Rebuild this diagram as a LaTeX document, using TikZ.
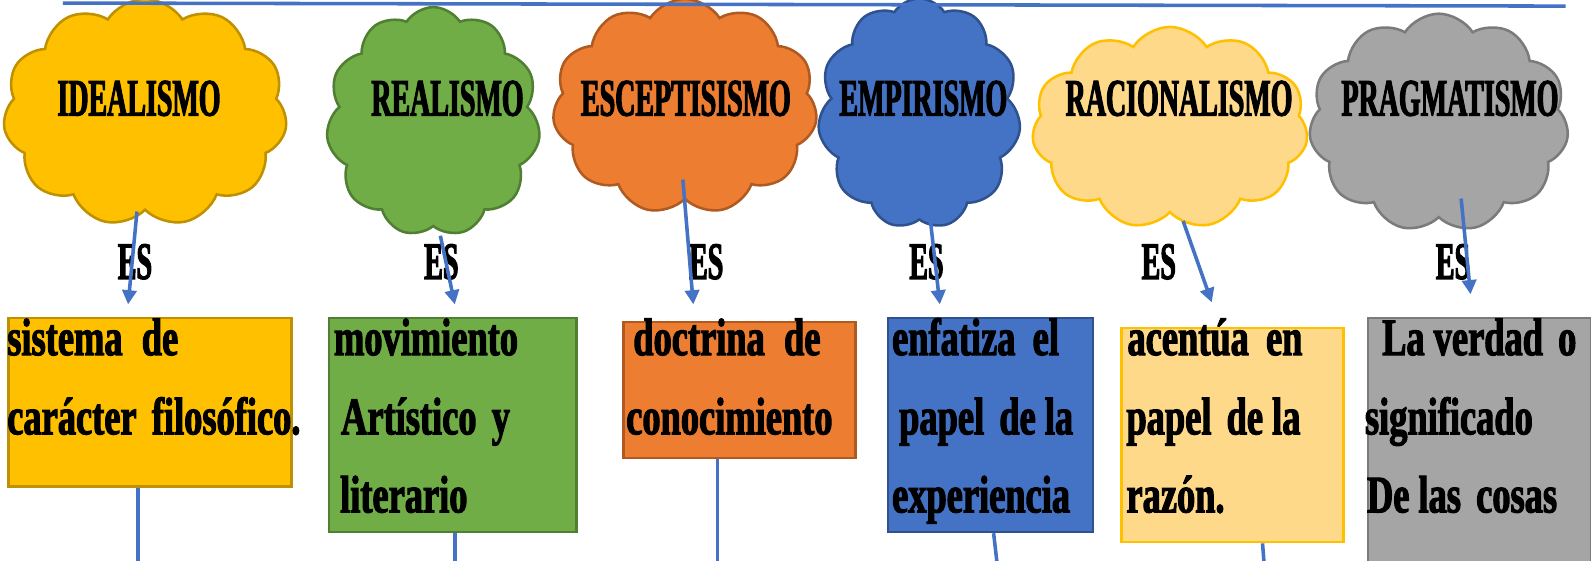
\documentclass[tikz,border=0pt]{standalone}
\usepackage{fontspec}
\setmainfont{Liberation Serif}
\newfontfamily\capfont{Liberation Serif}[FakeStretch=0.53,FakeBold=2]
\newfontfamily\txtfont{Liberation Serif}[FakeStretch=0.69,FakeBold=2]
\usetikzlibrary{shapes.symbols,arrows.meta}
\definecolor{azul}{HTML}{4472C4}
\definecolor{azulborde}{HTML}{2F528F}
\definecolor{oro}{HTML}{FFC000}
\definecolor{oroborde}{HTML}{BF9000}
\definecolor{verde}{HTML}{70AD47}
\definecolor{verdeborde}{HTML}{507E32}
\definecolor{naranja}{HTML}{ED7D31}
\definecolor{naranjaborde}{HTML}{AE5A21}
\definecolor{crema}{HTML}{FFD98A}
\definecolor{gris}{HTML}{A5A5A5}
\definecolor{grisborde}{HTML}{7B7B7B}
\begin{document}
\begin{tikzpicture}[x=1pt,y=-1pt,
  nube/.style={cloud, cloud puffs=11, cloud puff arc=115, cloud ignores aspect, draw, line width=2.5pt, inner sep=0pt},
  titulo/.style={font=\capfont\bfseries\fontsize{52}{60}\selectfont, inner sep=0pt},
  caja/.style={draw, line width=2.5pt, anchor=north west, inner sep=0pt},
  linea/.style={anchor=base west, inner sep=0pt, font=\txtfont\bfseries\fontsize{52}{60}\selectfont},
  flecha/.style={draw=azul, line width=3.5pt, -{Triangle[width=14pt,length=14pt]}},
  enlace/.style={draw=azul, line width=3.5pt}]
\useasboundingbox (0,0) rectangle (1568,552);

\node[nube, fill=oro, draw=oroborde, minimum width=280pt, minimum height=224pt] (c1) at (143,111) {};
\node[nube, fill=verde, draw=verdeborde, minimum width=211pt, minimum height=226pt] (c2) at (427,120) {};
\node[nube, fill=naranja, draw=naranjaborde, minimum width=261pt, minimum height=212pt] (c3) at (675,105) {};
\node[nube, fill=azul, draw=azulborde, minimum width=200pt, minimum height=227pt] (c4) at (906,112) {};
\node[nube, fill=crema, draw=oro, minimum width=272pt, minimum height=199pt] (c5) at (1153,126) {};
\node[nube, fill=gris, draw=grisborde, minimum width=256pt, minimum height=215pt] (c6) at (1418,121) {};

\coordinate (izq) at (62,3);
\coordinate (der) at (1543,6);
\draw[enlace] (izq) -- (der);

\node[titulo] (t1) at (137,97) {IDEALISMO};
\node[titulo] (t2) at (441,97) {REALISMO};
\node[titulo] (t3) at (676,97) {ESCEPTISISMO};
\node[titulo] (t4) at (910,97) {EMPIRISMO};
\node[titulo] (t5) at (1162,97) {RACIONALISMO};
\node[titulo] (t6) at (1429,97) {PRAGMATISMO};

\node[titulo] (e1) at (133,258) {ES};
\node[titulo] (e2) at (435,258) {ES};
\node[titulo] (e3) at (696,258) {ES};
\node[titulo] (e4) at (913,258) {ES};
\node[titulo] (e5) at (1142,258) {ES};
\node[titulo] (e6) at (1432,258) {ES};

\node[caja, fill=oro, draw=oroborde, minimum width=279pt, minimum height=166pt] (b1) at (7,312) {};
\node[caja, fill=verde, draw=verdeborde, minimum width=244pt, minimum height=211pt] (b2) at (323,312) {};
\node[caja, fill=naranja, draw=naranjaborde, minimum width=229pt, minimum height=134pt] (b3) at (613,316) {};
\node[caja, fill=azul, draw=azulborde, minimum width=202pt, minimum height=211pt] (b4) at (874,312) {};
\node[caja, fill=crema, draw=oro, minimum width=219pt, minimum height=211pt] (b5) at (1104,322) {};
\node[caja, fill=gris, draw=grisborde, minimum width=220pt, minimum height=250pt] (b6) at (1347,312) {};

\node[linea] (l11) at (7,350) {sistema\hspace{10pt} de};
\node[linea] (l12) at (7,428) {carácter\hspace{6pt} filosófico.};
\node[linea] (l21) at (329,350) {movimiento};
\node[linea] (l22) at (336,428) {Artístico\hspace{6pt} y};
\node[linea] (l23) at (335,505) {literario};
\node[linea] (l31) at (624,350) {doctrina\hspace{10pt} de};
\node[linea] (l32) at (617,428) {conocimiento};
\node[linea] (l41) at (879,350) {enfatiza\hspace{8pt} el};
\node[linea] (l42) at (886,428) {papel\hspace{6pt} de la};
\node[linea] (l43) at (879,505) {experiencia};
\node[linea] (l51) at (1111,350) {acentúa\hspace{8pt} en};
\node[linea] (l52) at (1110,428) {papel\hspace{6pt} de la};
\node[linea] (l53) at (1110,505) {razón.};
\node[linea] (l61) at (1362,350) {La verdad\hspace{6pt} o};
\node[linea] (l62) at (1345,428) {significado};
\node[linea] (l63) at (1347,505) {De las\hspace{6pt} cosas};

\draw[flecha] ([xshift=-8pt]c1.south) -- ([xshift=-21.5pt,yshift=12pt]b1.north);
\draw[flecha] ([xshift=7pt,yshift=-8pt]c2.south) -- ([xshift=2pt,yshift=12pt]b2.north);
\draw[flecha] ([xshift=-2pt,yshift=-72pt]c3.center) -- ([xshift=-45.5pt,yshift=16pt]b3.north);
\draw[flecha] ([xshift=11pt]c4.south) -- ([xshift=-50pt,yshift=12pt]b4.north);
\draw[flecha] ([xshift=13pt,yshift=-7pt]c5.south) -- ([xshift=-20.5pt,yshift=24pt]b5.north);
\draw[flecha] ([xshift=22pt,yshift=20pt]c6.south) -- ([xshift=-9pt,yshift=22pt]b6.north);

\draw[enlace] ([xshift=-11.5pt]b1.south) -- ++(0,80);
\draw[enlace] ([xshift=2pt]b2.south) -- ++(0,35);
\draw[enlace] ([xshift=-21.5pt]b3.south) -- ++(0,110);
\draw[enlace] ([xshift=3pt]b4.south) -- ++(4,35);
\draw[enlace] ([xshift=29.5pt]b5.south) -- ++(2,25);
\end{tikzpicture}
\end{document}
